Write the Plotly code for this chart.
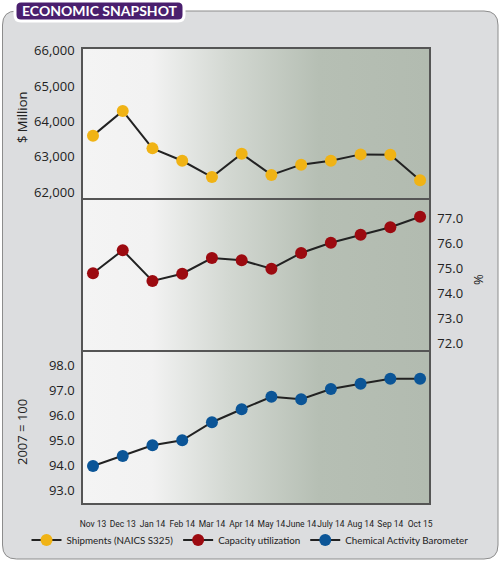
import base64
import plotly.graph_objects as go

months = ["Nov 13", "Dec 13", "Jan 14", "Feb 14", "Mar 14", "Apr 14",
          "May 14", "June 14", "July 14", "Aug 14", "Sep 14", "Oct 15"]
shipments = [63600, 64300, 63240, 62890, 62430, 63090,
             62490, 62780, 62890, 63070, 63060, 62340]
capacity = [74.8, 75.72, 74.49, 74.78, 75.41, 75.32,
            74.98, 75.61, 76.02, 76.34, 76.64, 77.06]
cab = [93.96, 94.36, 94.79, 94.99, 95.71, 96.23,
       96.73, 96.63, 97.04, 97.25, 97.45, 97.45]

W, H = 500, 564


def fx(px):
    return px / W


def fy(px):
    return 1 - px / H


def rounded(x0, y0, x1, y1, r):
    # rounded rectangle path in paper coords, pixel input
    rx, ry = r / W, r / H
    a, b, c, d = fx(x0), fy(y0), fx(x1), fy(y1)
    return (f"M{a+rx},{b} L{c-rx},{b} Q{c},{b} {c},{b-ry} L{c},{d+ry} "
            f"Q{c},{d} {c-rx},{d} L{a+rx},{d} Q{a},{d} {a},{d+ry} "
            f"L{a},{b-ry} Q{a},{b} {a+rx},{b} Z")


svg = ('<svg xmlns="http://www.w3.org/2000/svg" width="400" height="100" '
       'preserveAspectRatio="none" viewBox="0 0 400 100">'
       '<defs><linearGradient id="g" x1="0" y1="0" x2="1" y2="0">'
       '<stop offset="0" stop-color="#f4f4f4"/>'
       '<stop offset="0.2" stop-color="#f2f2f2"/>'
       '<stop offset="0.42" stop-color="#d3d8d2"/>'
       '<stop offset="0.68" stop-color="#b6bfb4"/>'
       '<stop offset="1" stop-color="#b2bbb0"/>'
       '</linearGradient></defs>'
       '<rect width="400" height="100" fill="url(#g)"/></svg>')
grad = "data:image/svg+xml;base64," + base64.b64encode(svg.encode()).decode()

xdom = [fx(83), fx(429)]
doms = [[fy(200), fy(49)], [fy(352), fy(200)], [fy(503), fy(352)]]

line_col = "#222222"
tick_font = dict(family="Open Sans, sans-serif", size=13, color="#222222")

fig = go.Figure()
series = [
    ("Shipments (NAICS S325)", shipments, "#f0b315", "x", "y"),
    ("Capacity utilization", capacity, "#9c0a10", "x2", "y2"),
    ("Chemical Activity Barometer", cab, "#0b5597", "x3", "y3"),
]
for name, vals, col, xa, ya in series:
    fig.add_trace(go.Scatter(
        x=months, y=vals, name=name, mode="lines+markers",
        xaxis=xa, yaxis=ya,
        line=dict(color=line_col, width=2),
        marker=dict(color=col, size=12),
    ))

ax_common = dict(showline=True, mirror=True, linecolor="#555555", linewidth=1.5,
                 showgrid=False, zeroline=False, range=[-0.336, 11.3])
yax_common = dict(ticks="outside", ticklen=4, tickcolor="rgba(0,0,0,0)", tickfont=tick_font,
                  showline=True, mirror=True, linecolor="#555555", linewidth=1.5,
                  showgrid=False, zeroline=False)
fig.update_layout(
    xaxis=dict(domain=xdom, anchor="y", showticklabels=False, **ax_common),
    xaxis2=dict(domain=xdom, anchor="y2", matches="x", showticklabels=False, **ax_common),
    xaxis3=dict(domain=xdom, anchor="y3", matches="x", ticks="outside", ticklen=12,
                tickcolor="rgba(0,0,0,0)", tickangle=0,
                tickfont=dict(family="Roboto, sans-serif", size=8.5, color="#222222"),
                **ax_common),
    yaxis=dict(domain=doms[0], anchor="x", range=[61780, 66050],
               tickvals=[62000, 63000, 64000, 65000, 66000], tickformat=",", **yax_common),
    yaxis2=dict(domain=doms[1], anchor="x2", side="right", range=[71.65, 77.73],
                tickvals=[72, 73, 74, 75, 76, 77], tickformat=".1f", **yax_common),
    yaxis3=dict(domain=doms[2], anchor="x3", range=[92.48, 98.52],
                tickvals=[93, 94, 95, 96, 97, 98], tickformat=".1f", **yax_common),
)

images = []
for xr, yr in [("x domain", "y domain"), ("x2 domain", "y2 domain"), ("x3 domain", "y3 domain")]:
    images.append(dict(source=grad, xref=xr, yref=yr, x=0, y=1, sizex=1, sizey=1,
                       xanchor="left", yanchor="top", sizing="stretch", layer="below"))

shapes = [
    dict(type="path", xref="paper", yref="paper", path=rounded(2.5, 11, 498, 559, 14),
         fillcolor="#dcdddf", line=dict(color="#8c8c8c", width=1), layer="below"),
    dict(type="path", xref="paper", yref="paper", path=rounded(15, 1, 184, 21, 6),
         fillcolor="#4a1f6e", line=dict(color="white", width=3), layer="below"),
]

ann = dict(xref="paper", yref="paper", showarrow=False, xanchor="center", yanchor="middle")
annotations = [
    dict(text="<b>ECONOMIC SNAPSHOT</b>", x=fx(99.5), y=fy(11),
         font=dict(family="Lato, sans-serif", size=14, color="white"), **ann),
    dict(text="$ Million", x=fx(22), y=fy(118), textangle=-90, font=tick_font, **ann),
    dict(text="%", x=fx(478), y=fy(280), textangle=-90, font=tick_font, **ann),
    dict(text="2007 = 100", x=fx(22), y=fy(432), textangle=-90, font=tick_font, **ann),
]

fig.update_layout(
    width=W, height=H,
    margin=dict(l=0, r=0, t=0, b=0, autoexpand=False),
    paper_bgcolor="white",
    plot_bgcolor="rgba(0,0,0,0)",
    images=images, shapes=shapes, annotations=annotations,
    legend=dict(orientation="h", x=0.5, xanchor="center", y=fy(540), yanchor="middle",
                bgcolor="rgba(0,0,0,0)",
                font=dict(family="Lato, sans-serif", size=9.8, color="#222222"),
                itemwidth=30, tracegroupgap=0),
    showlegend=True,
)

# drop the default page margin so the figure sits at the window's corner
fig.write_html("out.html", config={"displayModeBar": False},
               post_script="document.body.style.margin='0px';")
